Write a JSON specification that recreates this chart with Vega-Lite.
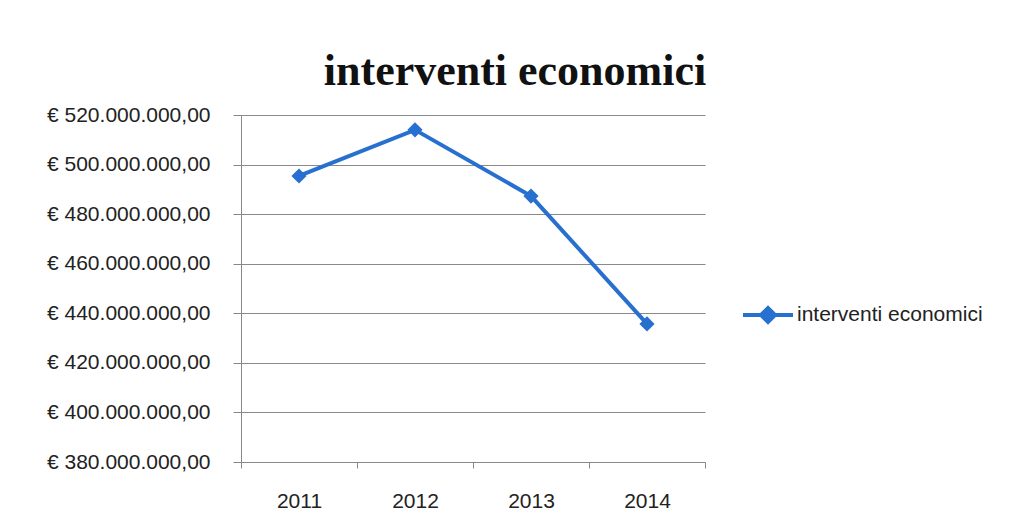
{
  "$schema": "https://vega.github.io/schema/vega-lite/v6.json",
  "width": 464,
  "height": 347,
  "autosize": {"type": "none"},
  "padding": {"left": 241, "top": 115, "right": 305, "bottom": 70},
  "background": "white",
  "title": {
    "text": "interventi economici",
    "font": "Liberation Serif",
    "fontSize": 44,
    "fontWeight": "bold",
    "color": "#111111",
    "anchor": "middle",
    "dx": 42,
    "baseline": "alphabetic",
    "offset": -25
  },
  "data": {
    "values": [
      {"anno": "2011", "valore": 495400000, "serie": "interventi economici"},
      {"anno": "2012", "valore": 514000000, "serie": "interventi economici"},
      {"anno": "2013", "valore": 487300000, "serie": "interventi economici"},
      {"anno": "2014", "valore": 435700000, "serie": "interventi economici"}
    ]
  },
  "encoding": {
    "x": {
      "field": "anno",
      "type": "ordinal",
      "scale": {"paddingInner": 0, "paddingOuter": 0},
      "axis": {
        "title": null,
        "labelAngle": 0,
        "labelFont": "Liberation Sans",
        "labelFontSize": 21,
        "labelColor": "#222222",
        "labelPadding": 22,
        "tickBand": "extent",
        "tickSize": 6,
        "tickColor": "#888888",
        "domainColor": "#888888",
        "grid": false
      }
    },
    "y": {
      "field": "valore",
      "type": "quantitative",
      "scale": {"domain": [380000000, 520000000], "zero": false, "nice": false},
      "axis": {
        "title": null,
        "values": [380000000, 400000000, 420000000, 440000000, 460000000, 480000000, 500000000, 520000000],
        "labelExpr": "'€ ' + format(datum.value / 1000000, 'd') + '.000.000,00'",
        "labelFont": "Liberation Sans",
        "labelFontSize": 21,
        "labelColor": "#222222",
        "labelPadding": 23,
        "tickSize": 8,
        "tickColor": "#888888",
        "domainColor": "#888888",
        "grid": true,
        "gridColor": "#8a8a8a",
        "gridWidth": 1
      }
    },
    "color": {
      "field": "serie",
      "type": "nominal",
      "scale": {"range": ["#2770d0"]},
      "legend": {
        "title": null,
        "orient": "none",
        "legendX": 500,
        "legendY": 173,
        "symbolType": "M-1,0H1M-0.28,0L0,-0.28L0.28,0L0,0.28Z",
        "symbolSize": 2500,
        "symbolStrokeWidth": 4,
        "symbolFillColor": "#2770d0",
        "symbolStrokeColor": "#2770d0",
        "labelFont": "Liberation Sans",
        "labelFontSize": 21,
        "labelColor": "#222222",
        "labelOffset": 2,
        "labelLimit": 320
      }
    }
  },
  "layer": [
    {"mark": {"type": "line", "strokeWidth": 4}},
    {"mark": {"type": "point", "shape": "diamond", "filled": true, "size": 230, "opacity": 1}}
  ],
  "config": {"view": {"stroke": null}}
}
